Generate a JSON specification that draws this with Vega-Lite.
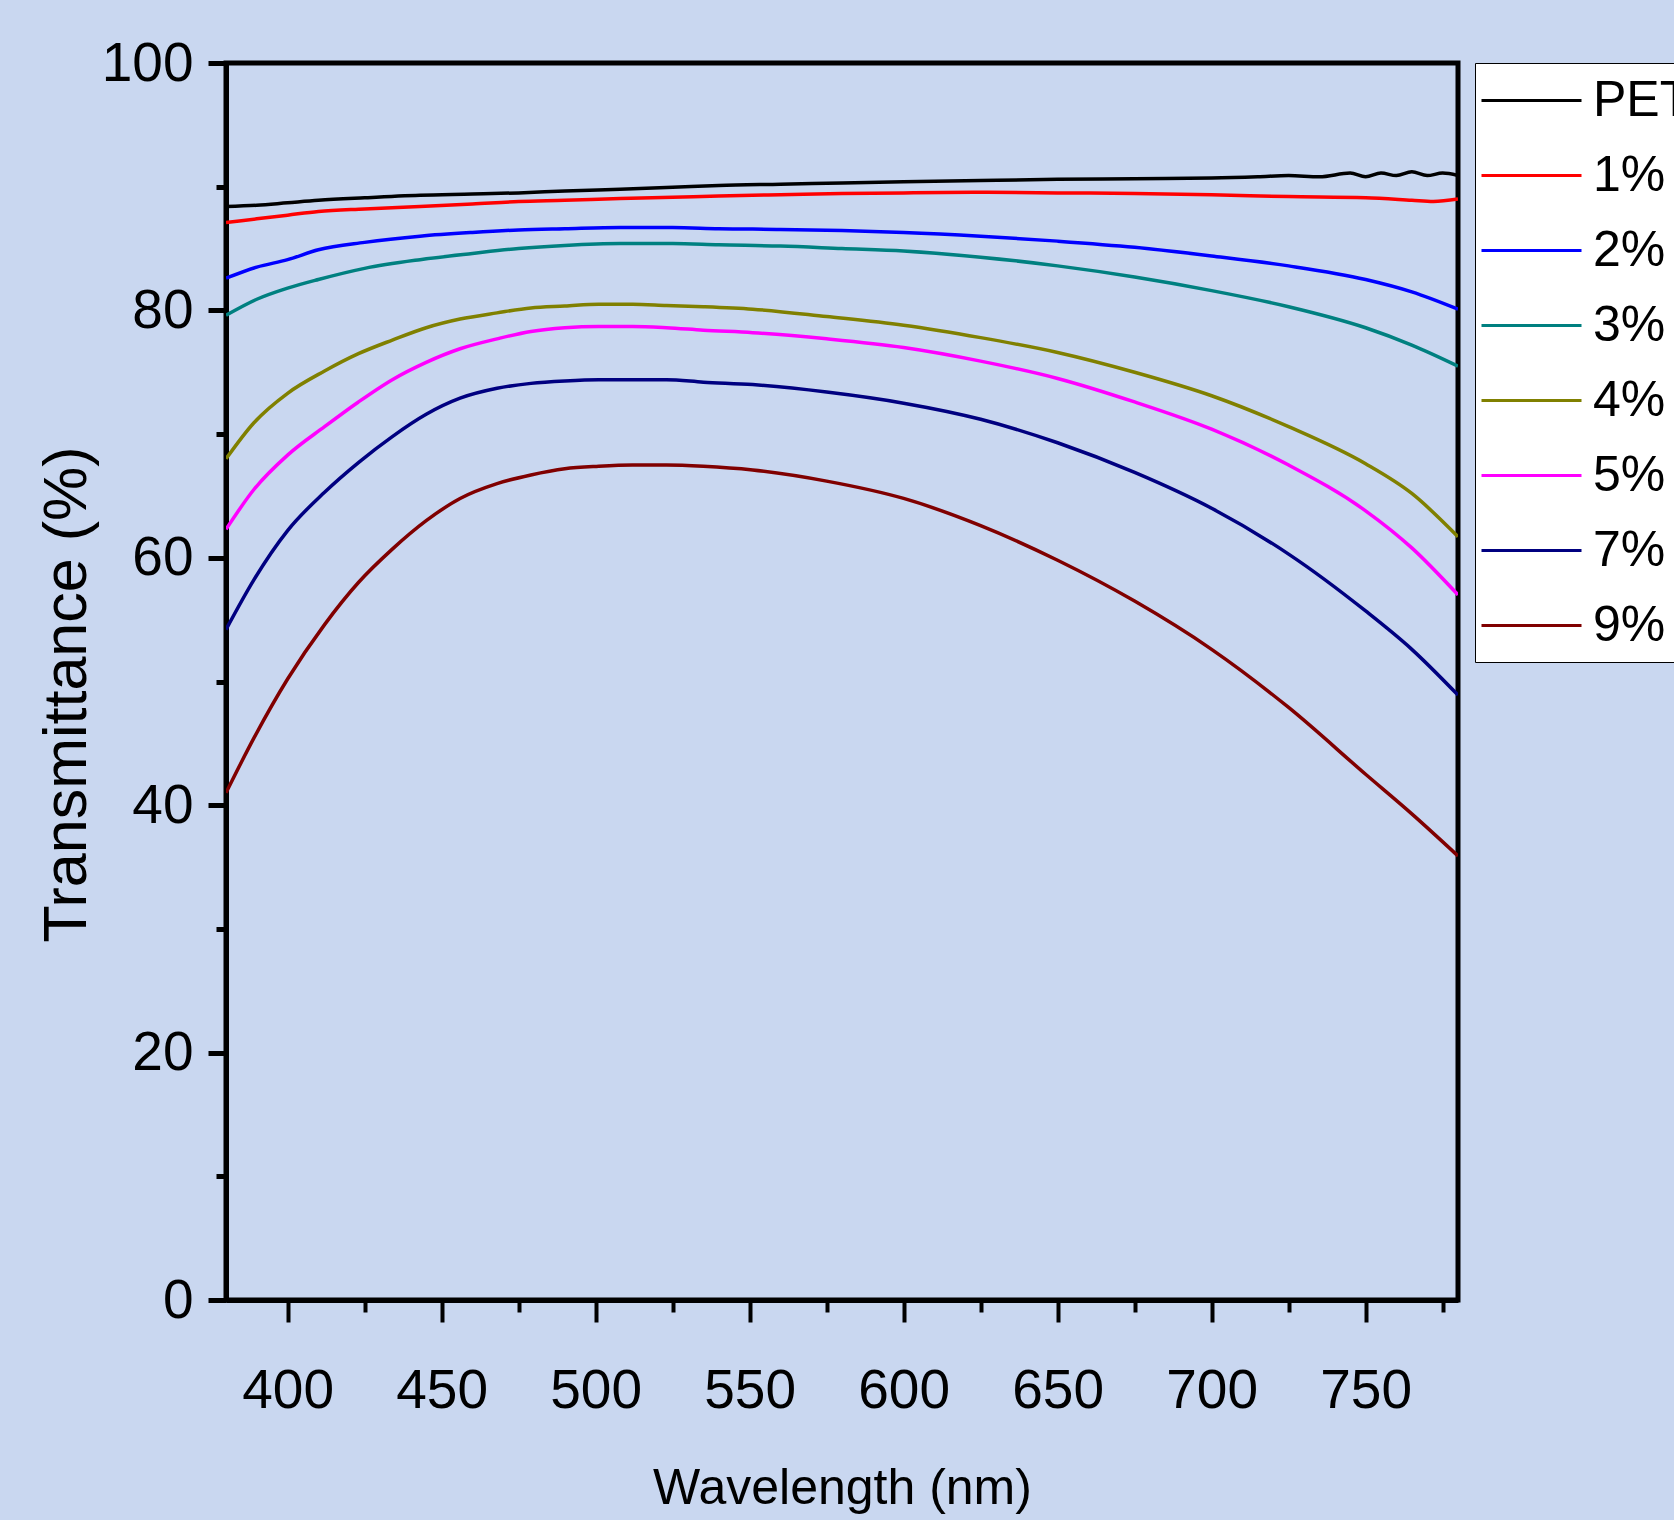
{
  "$schema": "https://vega.github.io/schema/vega-lite/v6.json",
  "autosize": {"type": "none"},
  "padding": {"left": 226, "top": 63, "right": 216, "bottom": 220},
  "width": 1232,
  "height": 1237,
  "background": "#c9d7f0",
  "config": {
    "view": {"stroke": "black", "strokeWidth": 5, "fill": null},
    "axis": {
      "domainColor": "black", "domainWidth": 5, "tickColor": "black",
      "labelColor": "black", "titleColor": "black", "grid": false,
      "labelFont": "Liberation Sans", "titleFont": "Liberation Sans",
      "labelFontSize": 55, "titleFontWeight": "normal"
    },
    "legend": {
      "labelFont": "Liberation Sans",
      "labelFontSize": 50, "labelColor": "black"
    }
  },
  "data": {"values": [
    {"wl":380,"T":88.4,"s":"PET"},{"wl":390,"T":88.5,"s":"PET"},{"wl":400,"T":88.7,"s":"PET"},{"wl":410,"T":88.9,"s":"PET"},{"wl":425,"T":89.1,"s":"PET"},{"wl":443,"T":89.3,"s":"PET"},{"wl":460,"T":89.4,"s":"PET"},{"wl":475,"T":89.5,"s":"PET"},{"wl":490,"T":89.65,"s":"PET"},{"wl":508,"T":89.8,"s":"PET"},{"wl":525,"T":89.95,"s":"PET"},{"wl":540,"T":90.1,"s":"PET"},{"wl":560,"T":90.2,"s":"PET"},{"wl":580,"T":90.3,"s":"PET"},{"wl":600,"T":90.4,"s":"PET"},{"wl":625,"T":90.5,"s":"PET"},{"wl":650,"T":90.6,"s":"PET"},{"wl":675,"T":90.65,"s":"PET"},{"wl":700,"T":90.7,"s":"PET"},{"wl":715,"T":90.8,"s":"PET"},{"wl":725,"T":90.9,"s":"PET"},{"wl":735,"T":90.8,"s":"PET"},{"wl":745,"T":91.1,"s":"PET"},{"wl":750,"T":90.8,"s":"PET"},{"wl":755,"T":91.1,"s":"PET"},{"wl":760,"T":90.9,"s":"PET"},{"wl":765,"T":91.2,"s":"PET"},{"wl":770,"T":90.9,"s":"PET"},{"wl":775,"T":91.1,"s":"PET"},{"wl":780,"T":90.9,"s":"PET"},
    {"wl":380,"T":87.1,"s":"1%"},{"wl":390,"T":87.4,"s":"1%"},{"wl":400,"T":87.7,"s":"1%"},{"wl":410,"T":88.0,"s":"1%"},{"wl":425,"T":88.2,"s":"1%"},{"wl":443,"T":88.4,"s":"1%"},{"wl":460,"T":88.6,"s":"1%"},{"wl":475,"T":88.8,"s":"1%"},{"wl":490,"T":88.9,"s":"1%"},{"wl":508,"T":89.05,"s":"1%"},{"wl":525,"T":89.15,"s":"1%"},{"wl":540,"T":89.25,"s":"1%"},{"wl":560,"T":89.35,"s":"1%"},{"wl":580,"T":89.45,"s":"1%"},{"wl":600,"T":89.5,"s":"1%"},{"wl":625,"T":89.55,"s":"1%"},{"wl":650,"T":89.5,"s":"1%"},{"wl":675,"T":89.45,"s":"1%"},{"wl":700,"T":89.35,"s":"1%"},{"wl":725,"T":89.2,"s":"1%"},{"wl":750,"T":89.1,"s":"1%"},{"wl":765,"T":88.9,"s":"1%"},{"wl":772,"T":88.8,"s":"1%"},{"wl":780,"T":89.0,"s":"1%"},
    {"wl":380,"T":82.6,"s":"2%"},{"wl":390,"T":83.5,"s":"2%"},{"wl":400,"T":84.1,"s":"2%"},{"wl":410,"T":84.9,"s":"2%"},{"wl":425,"T":85.5,"s":"2%"},{"wl":443,"T":86.0,"s":"2%"},{"wl":460,"T":86.3,"s":"2%"},{"wl":475,"T":86.5,"s":"2%"},{"wl":490,"T":86.6,"s":"2%"},{"wl":508,"T":86.7,"s":"2%"},{"wl":525,"T":86.7,"s":"2%"},{"wl":540,"T":86.6,"s":"2%"},{"wl":560,"T":86.55,"s":"2%"},{"wl":580,"T":86.45,"s":"2%"},{"wl":600,"T":86.3,"s":"2%"},{"wl":625,"T":86.0,"s":"2%"},{"wl":650,"T":85.6,"s":"2%"},{"wl":675,"T":85.1,"s":"2%"},{"wl":700,"T":84.4,"s":"2%"},{"wl":725,"T":83.6,"s":"2%"},{"wl":750,"T":82.5,"s":"2%"},{"wl":765,"T":81.5,"s":"2%"},{"wl":780,"T":80.1,"s":"2%"},
    {"wl":380,"T":79.6,"s":"3%"},{"wl":390,"T":80.9,"s":"3%"},{"wl":400,"T":81.8,"s":"3%"},{"wl":410,"T":82.5,"s":"3%"},{"wl":425,"T":83.4,"s":"3%"},{"wl":443,"T":84.1,"s":"3%"},{"wl":460,"T":84.6,"s":"3%"},{"wl":475,"T":85.0,"s":"3%"},{"wl":490,"T":85.25,"s":"3%"},{"wl":508,"T":85.4,"s":"3%"},{"wl":525,"T":85.4,"s":"3%"},{"wl":540,"T":85.3,"s":"3%"},{"wl":560,"T":85.2,"s":"3%"},{"wl":580,"T":85.0,"s":"3%"},{"wl":600,"T":84.8,"s":"3%"},{"wl":625,"T":84.3,"s":"3%"},{"wl":650,"T":83.6,"s":"3%"},{"wl":675,"T":82.7,"s":"3%"},{"wl":700,"T":81.6,"s":"3%"},{"wl":725,"T":80.3,"s":"3%"},{"wl":750,"T":78.6,"s":"3%"},{"wl":765,"T":77.2,"s":"3%"},{"wl":780,"T":75.5,"s":"3%"},
    {"wl":380,"T":68.0,"s":"4%"},{"wl":389,"T":70.9,"s":"4%"},{"wl":400,"T":73.3,"s":"4%"},{"wl":412,"T":75.1,"s":"4%"},{"wl":423,"T":76.5,"s":"4%"},{"wl":434,"T":77.6,"s":"4%"},{"wl":445,"T":78.6,"s":"4%"},{"wl":456,"T":79.3,"s":"4%"},{"wl":468,"T":79.8,"s":"4%"},{"wl":479,"T":80.2,"s":"4%"},{"wl":490,"T":80.35,"s":"4%"},{"wl":501,"T":80.5,"s":"4%"},{"wl":512,"T":80.5,"s":"4%"},{"wl":523,"T":80.4,"s":"4%"},{"wl":535,"T":80.3,"s":"4%"},{"wl":551,"T":80.1,"s":"4%"},{"wl":575,"T":79.5,"s":"4%"},{"wl":600,"T":78.8,"s":"4%"},{"wl":625,"T":77.8,"s":"4%"},{"wl":650,"T":76.6,"s":"4%"},{"wl":675,"T":75.0,"s":"4%"},{"wl":700,"T":73.1,"s":"4%"},{"wl":725,"T":70.6,"s":"4%"},{"wl":750,"T":67.6,"s":"4%"},{"wl":765,"T":65.2,"s":"4%"},{"wl":780,"T":61.7,"s":"4%"},
    {"wl":380,"T":62.3,"s":"5%"},{"wl":389,"T":65.5,"s":"5%"},{"wl":400,"T":68.3,"s":"5%"},{"wl":412,"T":70.6,"s":"5%"},{"wl":423,"T":72.6,"s":"5%"},{"wl":434,"T":74.4,"s":"5%"},{"wl":445,"T":75.8,"s":"5%"},{"wl":456,"T":76.9,"s":"5%"},{"wl":468,"T":77.7,"s":"5%"},{"wl":479,"T":78.3,"s":"5%"},{"wl":490,"T":78.6,"s":"5%"},{"wl":501,"T":78.7,"s":"5%"},{"wl":512,"T":78.7,"s":"5%"},{"wl":523,"T":78.6,"s":"5%"},{"wl":535,"T":78.4,"s":"5%"},{"wl":551,"T":78.2,"s":"5%"},{"wl":575,"T":77.7,"s":"5%"},{"wl":600,"T":77.0,"s":"5%"},{"wl":625,"T":75.9,"s":"5%"},{"wl":650,"T":74.5,"s":"5%"},{"wl":675,"T":72.6,"s":"5%"},{"wl":700,"T":70.4,"s":"5%"},{"wl":725,"T":67.5,"s":"5%"},{"wl":750,"T":63.8,"s":"5%"},{"wl":765,"T":60.8,"s":"5%"},{"wl":780,"T":57.0,"s":"5%"},
    {"wl":380,"T":54.2,"s":"7%"},{"wl":389,"T":58.2,"s":"7%"},{"wl":400,"T":62.2,"s":"7%"},{"wl":412,"T":65.3,"s":"7%"},{"wl":423,"T":67.7,"s":"7%"},{"wl":434,"T":69.8,"s":"7%"},{"wl":445,"T":71.6,"s":"7%"},{"wl":456,"T":72.9,"s":"7%"},{"wl":468,"T":73.7,"s":"7%"},{"wl":479,"T":74.1,"s":"7%"},{"wl":490,"T":74.3,"s":"7%"},{"wl":501,"T":74.4,"s":"7%"},{"wl":512,"T":74.4,"s":"7%"},{"wl":523,"T":74.4,"s":"7%"},{"wl":535,"T":74.2,"s":"7%"},{"wl":551,"T":74.0,"s":"7%"},{"wl":575,"T":73.4,"s":"7%"},{"wl":600,"T":72.5,"s":"7%"},{"wl":625,"T":71.2,"s":"7%"},{"wl":650,"T":69.3,"s":"7%"},{"wl":675,"T":66.9,"s":"7%"},{"wl":700,"T":64.0,"s":"7%"},{"wl":725,"T":60.3,"s":"7%"},{"wl":750,"T":55.7,"s":"7%"},{"wl":765,"T":52.6,"s":"7%"},{"wl":780,"T":48.9,"s":"7%"},
    {"wl":380,"T":41.0,"s":"9%"},{"wl":389,"T":45.4,"s":"9%"},{"wl":400,"T":50.2,"s":"9%"},{"wl":412,"T":54.6,"s":"9%"},{"wl":423,"T":58.0,"s":"9%"},{"wl":434,"T":60.7,"s":"9%"},{"wl":445,"T":63.0,"s":"9%"},{"wl":456,"T":64.8,"s":"9%"},{"wl":468,"T":66.0,"s":"9%"},{"wl":479,"T":66.7,"s":"9%"},{"wl":490,"T":67.2,"s":"9%"},{"wl":501,"T":67.4,"s":"9%"},{"wl":512,"T":67.5,"s":"9%"},{"wl":523,"T":67.5,"s":"9%"},{"wl":535,"T":67.4,"s":"9%"},{"wl":551,"T":67.1,"s":"9%"},{"wl":575,"T":66.2,"s":"9%"},{"wl":600,"T":64.8,"s":"9%"},{"wl":625,"T":62.6,"s":"9%"},{"wl":650,"T":59.8,"s":"9%"},{"wl":675,"T":56.5,"s":"9%"},{"wl":700,"T":52.6,"s":"9%"},{"wl":725,"T":47.9,"s":"9%"},{"wl":750,"T":42.5,"s":"9%"},{"wl":765,"T":39.3,"s":"9%"},{"wl":780,"T":35.9,"s":"9%"}
  ]},
  "layer": [
    {
      "mark": {"type": "line", "strokeWidth": 3.5, "interpolate": "monotone", "clip": true},
      "encoding": {
        "x": {"field": "wl", "type": "quantitative",
          "scale": {"domain": [380, 780], "nice": false, "zero": false},
          "axis": {"orient": "bottom", "values": [400,450,500,550,600,650,700,750],
            "tickSize": 22, "tickWidth": 4, "labelPadding": 42,
            "title": "Wavelength (nm)", "titleFontSize": 50, "titlePadding": 45}},
        "y": {"field": "T", "type": "quantitative",
          "scale": {"domain": [0, 100], "nice": false},
          "axis": {"orient": "left", "values": [0,20,40,60,80,100],
            "tickSize": 18, "tickWidth": 5, "labelPadding": 15,
            "title": "Transmittance (%)", "titleFontSize": 61, "titlePadding": 3,
            "titleY": 631}},
        "color": {"field": "s", "type": "nominal",
          "scale": {"domain": ["PET","1%","2%","3%","4%","5%","7%","9%"],
            "range": ["#000000","#ff0000","#0000ff","#008080","#808000","#ff00ff","#000080","#800000"]},
          "legend": {"title": null, "orient": "none", "legendX": 1249, "legendY": 0,
            "symbolType": "M-2,0H2", "symbolSize": 2500, "symbolStrokeWidth": 3,
            "symbolFillColor": "transparent",
            "symbolOffset": 19,
            "fillColor": "white", "strokeColor": "black", "padding": 11,
            "rowPadding": 23, "labelOffset": 35, "labelLimit": 0}}
      }
    },
    {
      "mark": {"type": "point", "opacity": 0},
      "encoding": {
        "x": {"field": "wl", "type": "quantitative",
          "axis": {"orient": "bottom", "values": [425,475,525,575,625,675,725,775],
            "tickSize": 12, "tickWidth": 4, "labels": false, "domain": false, "title": null}},
        "y": {"field": "T", "type": "quantitative",
          "axis": {"orient": "left", "values": [10,30,50,70,90],
            "tickSize": 10, "tickWidth": 5, "labels": false, "domain": false, "title": null}}
      }
    }
  ],
  "resolve": {"axis": {"x": "independent", "y": "independent"}}
}
